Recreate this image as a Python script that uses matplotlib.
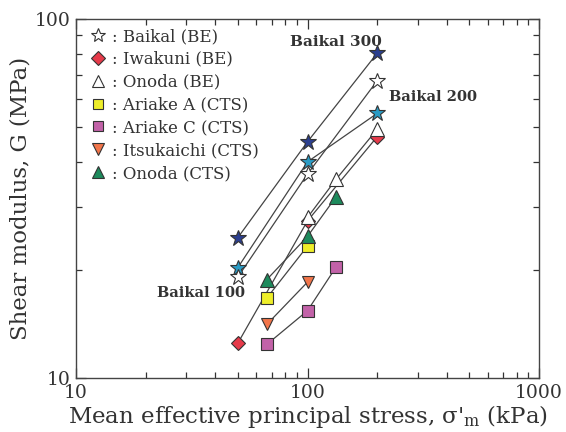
import matplotlib
matplotlib.use("Agg")
import matplotlib.pyplot as plt
from matplotlib.lines import Line2D
from matplotlib.ticker import LogLocator, NullFormatter, FixedLocator, FixedFormatter

# data (mean effective stress kPa, shear modulus MPa)
names = ["Baikal 300", "Baikal 200", "Baikal 100", "Iwakuni (BE)", "Onoda (BE)",
         "Ariake A (CTS)", "Ariake C (CTS)", "Itsukaichi (CTS)", "Onoda (CTS)"]
stress = [
    [50, 100, 200],
    [50, 100, 200],
    [50, 100, 200],
    [50, 100, 200],
    [100, 133, 200],
    [66.7, 100],
    [66.7, 100, 133],
    [66.7, 100],
    [66.7, 100, 133],
]
modulus = [
    [24.6, 45.5, 80.3],
    [20.3, 40.0, 54.6],
    [19.1, 37.0, 67.3],
    [12.5, 27.4, 47.0],
    [28.0, 35.8, 49.3],
    [16.7, 23.3],
    [12.4, 15.4, 20.4],
    [14.1, 18.5],
    [18.8, 24.8, 32.0],
]
markers = ["*", "*", "*", "D", "^", "s", "s", "v", "^"]
colors = ["#2b3f8f", "#2a9bc4", "white", "#e63a4a", "white",
          "#eeee2a", "#c262a8", "#f2754a", "#1d8a5c"]
sizes = [12, 12, 12, 7.5, 9.5, 8.5, 8.5, 9, 9.5]

legend_labels = [": Baikal (BE)", ": Iwakuni (BE)", ": Onoda (BE)", ": Ariake A (CTS)",
                 ": Ariake C (CTS)", ": Itsukaichi (CTS)", ": Onoda (CTS)"]
legend_idx = [2, 3, 4, 5, 6, 7, 8]
legend_sizes = [10, 7.5, 8, 7, 7, 8, 8]

plt.rcParams["font.family"] = "DejaVu Serif"

fig = plt.figure(figsize=(5.66, 4.32), dpi=100)
ax = fig.add_axes([0.1343, 0.125, 0.8180, 0.831])

for i in range(len(names)):
    ax.plot(stress[i], modulus[i], "-", color="#444444", lw=0.9, zorder=1)
    ax.plot(stress[i], modulus[i], linestyle="none", marker=markers[i], ms=sizes[i],
            markerfacecolor=colors[i], markeredgecolor="#333333", markeredgewidth=0.8, zorder=3)

ax.set_xscale("log")
ax.set_yscale("log")
ax.set_xlim(10, 1000)
ax.set_ylim(10, 100)

ax.xaxis.set_major_locator(FixedLocator([10, 100, 1000]))
ax.xaxis.set_major_formatter(FixedFormatter(["10", "100", "1000"]))
ax.yaxis.set_major_locator(FixedLocator([10, 100]))
ax.yaxis.set_major_formatter(FixedFormatter(["10", "100"]))
ax.xaxis.set_minor_locator(LogLocator(base=10, subs=range(2, 10)))
ax.yaxis.set_minor_locator(LogLocator(base=10, subs=range(2, 10)))
ax.xaxis.set_minor_formatter(NullFormatter())
ax.yaxis.set_minor_formatter(NullFormatter())
ax.tick_params(which="both", direction="in", top=True, right=True, colors="#333333",
               labelsize=13.5, labelcolor="#333333")
ax.tick_params(which="major", length=7, width=0.9, pad=4)
ax.tick_params(which="minor", length=4.5, width=0.9)
for s in ax.spines.values():
    s.set_color("#444444")
    s.set_linewidth(1.0)

ax.set_xlabel("Mean effective principal stress, σ'$_{\\mathregular{m}}$ (kPa)",
              fontsize=16.5, color="#333333", labelpad=1)
ax.set_ylabel("Shear modulus, G (MPa)", fontsize=16.5, color="#333333", labelpad=2)

ax.text(133, 86.3, "Baikal 300", fontsize=11, fontweight="bold", ha="center", va="center", color="#333333")
ax.text(226, 60.6, "Baikal 200", fontsize=10.5, fontweight="bold", ha="left", va="center", color="#333333")
ax.text(22.4, 17.3, "Baikal 100", fontsize=10.5, fontweight="bold", ha="left", va="center", color="#333333")

handles = []
for k, i in enumerate(legend_idx):
    handles.append(Line2D([], [], linestyle="none", marker=markers[i], ms=legend_sizes[k],
                          markerfacecolor=colors[i], markeredgecolor="#333333", markeredgewidth=0.8))
ax.legend(handles, legend_labels, loc="upper left", bbox_to_anchor=(0.0216, 0.989),
          frameon=False, fontsize=12, handlelength=0.8, handletextpad=0.45,
          labelspacing=0.35, borderaxespad=0, borderpad=0.3, labelcolor="#333333")

fig.savefig("out.png", dpi=100)
